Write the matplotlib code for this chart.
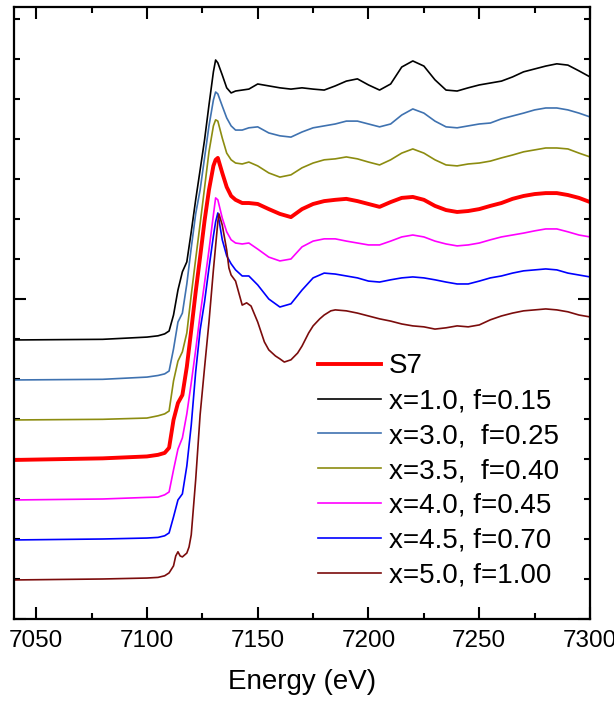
import matplotlib
matplotlib.use('Agg')
import matplotlib.pyplot as plt
from matplotlib.ticker import MultipleLocator

plt.rcParams['font.family'] = ['Liberation Sans', 'DejaVu Sans']

# energy grid (eV) shared by most spectra
energy = [7040, 7080, 7100, 7105, 7108, 7110, 7112, 7114, 7116, 7118, 7120, 7122, 7124, 7126,
          7128, 7130, 7131, 7132, 7134, 7136, 7138, 7140, 7143, 7146, 7150, 7155, 7160, 7165,
          7170, 7175, 7180, 7185, 7190, 7195, 7200, 7205, 7210, 7215, 7220, 7225, 7230, 7235,
          7240, 7245, 7250, 7255, 7260, 7265, 7270, 7275, 7280, 7285, 7290, 7295, 7300]

# normalized absorption (before vertical offset)
mu_x10 = [0, 0.002, 0.009, 0.013, 0.019, 0.028, 0.078, 0.156, 0.213, 0.244, 0.338, 0.438, 0.531, 0.625,
          0.734, 0.838, 0.875, 0.866, 0.828, 0.788, 0.772, 0.778, 0.781, 0.784, 0.800, 0.794, 0.788, 0.784,
          0.788, 0.784, 0.781, 0.794, 0.809, 0.816, 0.797, 0.781, 0.800, 0.853, 0.872, 0.856, 0.813, 0.781,
          0.778, 0.788, 0.797, 0.803, 0.809, 0.822, 0.838, 0.847, 0.856, 0.863, 0.859, 0.841, 0.822]
mu_x30 = [0, 0.002, 0.009, 0.014, 0.019, 0.028, 0.097, 0.181, 0.209, 0.300, 0.413, 0.519, 0.594, 0.694,
          0.794, 0.875, 0.900, 0.894, 0.856, 0.819, 0.794, 0.781, 0.781, 0.788, 0.791, 0.772, 0.763, 0.759,
          0.775, 0.788, 0.794, 0.800, 0.809, 0.809, 0.800, 0.791, 0.800, 0.828, 0.847, 0.834, 0.809, 0.791,
          0.788, 0.794, 0.800, 0.803, 0.816, 0.825, 0.834, 0.844, 0.850, 0.850, 0.844, 0.834, 0.822]
mu_x35 = [0, 0.002, 0.006, 0.013, 0.019, 0.028, 0.122, 0.184, 0.213, 0.272, 0.391, 0.503, 0.613, 0.725,
          0.838, 0.919, 0.938, 0.934, 0.881, 0.834, 0.813, 0.803, 0.800, 0.806, 0.794, 0.772, 0.759, 0.766,
          0.788, 0.803, 0.813, 0.816, 0.822, 0.816, 0.806, 0.797, 0.813, 0.834, 0.847, 0.834, 0.813, 0.797,
          0.794, 0.800, 0.803, 0.809, 0.819, 0.828, 0.838, 0.844, 0.850, 0.850, 0.847, 0.834, 0.822]
mu_s7 = [0, 0.005, 0.011, 0.016, 0.022, 0.038, 0.125, 0.178, 0.203, 0.291, 0.406, 0.525, 0.634, 0.747,
         0.844, 0.919, 0.938, 0.944, 0.897, 0.853, 0.825, 0.813, 0.803, 0.803, 0.800, 0.784, 0.769, 0.759,
         0.784, 0.800, 0.809, 0.813, 0.816, 0.809, 0.800, 0.791, 0.806, 0.819, 0.822, 0.813, 0.794, 0.781,
         0.775, 0.778, 0.784, 0.794, 0.803, 0.816, 0.825, 0.831, 0.834, 0.834, 0.828, 0.819, 0.806]
mu_x40 = [0, 0.003, 0.008, 0.009, 0.016, 0.025, 0.094, 0.159, 0.194, 0.269, 0.366, 0.469, 0.578, 0.678,
          0.781, 0.891, 0.944, 0.938, 0.881, 0.838, 0.813, 0.803, 0.800, 0.803, 0.784, 0.759, 0.747, 0.753,
          0.791, 0.809, 0.816, 0.816, 0.809, 0.803, 0.797, 0.797, 0.809, 0.822, 0.828, 0.822, 0.809, 0.800,
          0.794, 0.797, 0.803, 0.813, 0.822, 0.828, 0.834, 0.841, 0.847, 0.847, 0.838, 0.828, 0.822]
mu_x45 = [0, 0.003, 0.006, 0.008, 0.013, 0.022, 0.072, 0.125, 0.144, 0.231, 0.359, 0.525, 0.656, 0.744,
          0.850, 0.950, 0.994, 1.022, 0.938, 0.888, 0.863, 0.844, 0.825, 0.825, 0.797, 0.753, 0.728, 0.738,
          0.781, 0.819, 0.834, 0.831, 0.825, 0.819, 0.809, 0.806, 0.813, 0.819, 0.822, 0.819, 0.813, 0.806,
          0.800, 0.800, 0.809, 0.819, 0.825, 0.834, 0.841, 0.844, 0.847, 0.844, 0.834, 0.828, 0.822]

# x=5.0 spectrum has its own grid (pre-edge peak and shoulders)
energy_x50 = [7040, 7080, 7100, 7105, 7108, 7110, 7112, 7113, 7114, 7115, 7116, 7118, 7119, 7120, 7122,
              7124, 7126, 7128, 7130, 7132, 7132.5, 7134, 7136, 7137, 7138, 7140, 7142, 7143, 7145, 7147,
              7150, 7153, 7155, 7158, 7160, 7162, 7165, 7168, 7170, 7173, 7175, 7178, 7180, 7183, 7185,
              7190, 7195, 7200, 7205, 7210, 7215, 7220, 7225, 7230, 7235, 7240, 7245, 7250, 7255, 7260,
              7265, 7270, 7275, 7280, 7285, 7290, 7295, 7300]
mu_x50 = [0, 0.003, 0.006, 0.008, 0.013, 0.022, 0.044, 0.075, 0.088, 0.075, 0.072, 0.084, 0.103, 0.141, 0.313,
          0.516, 0.663, 0.806, 0.969, 1.119, 1.144, 1.109, 1.031, 0.975, 0.953, 0.934, 0.884, 0.859, 0.866, 0.856,
          0.806, 0.744, 0.719, 0.700, 0.691, 0.681, 0.688, 0.709, 0.731, 0.772, 0.794, 0.816, 0.828, 0.841, 0.844,
          0.841, 0.834, 0.825, 0.816, 0.809, 0.800, 0.794, 0.791, 0.784, 0.788, 0.794, 0.791, 0.797, 0.813, 0.825,
          0.834, 0.841, 0.844, 0.847, 0.844, 0.838, 0.828, 0.822]

labels = ['x=1.0, f=0.15', 'x=3.0,  f=0.25', 'x=3.5,  f=0.40', 'S7',
          'x=4.0, f=0.45', 'x=4.5, f=0.70', 'x=5.0, f=1.00']
colors = ['#000000', '#3f72b0', '#8c8c10', '#ff0000', '#ff00ff', '#0000ff', '#7b0c0c']
offsets = [0.872, 0.747, 0.622, 0.497, 0.372, 0.247, 0.122]

series = [(energy, mu_x10), (energy, mu_x30), (energy, mu_x35), (energy, mu_s7),
          (energy, mu_x40), (energy, mu_x45), (energy_x50, mu_x50)]

fig = plt.figure(figsize=(6.14, 7.03), dpi=100)
ax = fig.add_axes([0.0228, 0.1195, 0.9382, 0.8705])

lines = {}
for (e, mu), lab, c, off in zip(series, labels, colors, offsets):
    lw = 2.8 if lab == 'S7' else 1.2
    ln, = ax.plot(e, [m + off for m in mu], color=c, lw=lw, label=lab)
    lines[lab] = ln

order = ['S7', 'x=1.0, f=0.15', 'x=3.0,  f=0.25', 'x=3.5,  f=0.40',
         'x=4.0, f=0.45', 'x=4.5, f=0.70', 'x=5.0, f=1.00']
ax.legend([lines[k] for k in order], order, loc='upper left', bbox_to_anchor=(0.527, 0.434),
          frameon=False, fontsize=20, handlelength=2.27, handletextpad=0.3,
          labelspacing=0.32, borderpad=0, borderaxespad=0)

ax.set_xlim(7040, 7300)
ax.set_ylim(0, 1.9125)
ax.xaxis.set_major_locator(MultipleLocator(50))
ax.xaxis.set_minor_locator(MultipleLocator(25))
ax.yaxis.set_major_locator(MultipleLocator(1))
ax.yaxis.set_minor_locator(MultipleLocator(0.125))
ax.tick_params(which='both', direction='in', top=True, right=True, width=1.5, labelsize=17.5, pad=8)
ax.tick_params(which='major', length=8.5)
ax.tick_params(which='minor', length=4.5)
ax.tick_params(axis='y', labelleft=False)
for s in ax.spines.values():
    s.set_linewidth(1.6)

ax.set_xlabel('Energy (eV)', fontsize=20, labelpad=12)

fig.savefig('out.png', dpi=100)
